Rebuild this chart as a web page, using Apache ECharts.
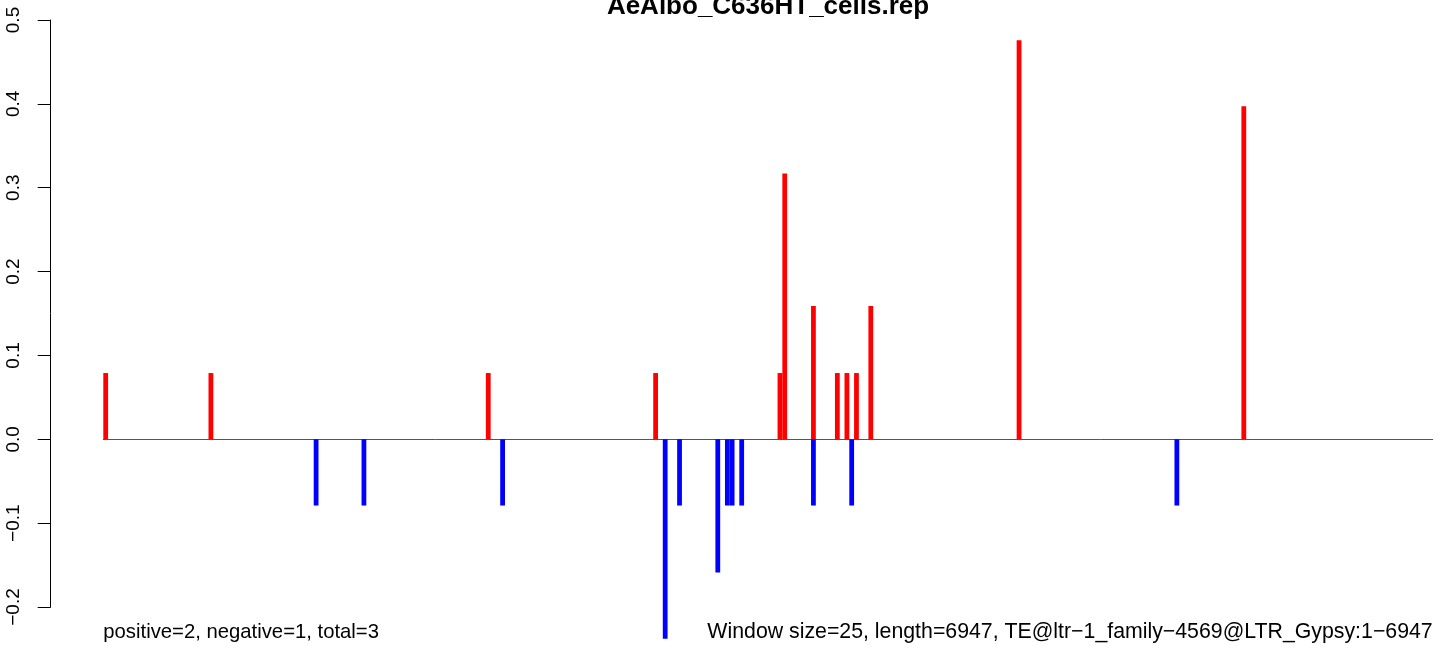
<!DOCTYPE html>
<html><head><meta charset="utf-8">
<script src="https://cdn.jsdelivr.net/npm/echarts@6/dist/echarts.min.js"></script>
<style>html,body{margin:0;padding:0;background:#fff}#c{width:1444px;height:650px}</style>
</head><body><div id="c"></div>
<script>
const titleText = 'AeAlbo_C636HT_cells.rep';
const noteLeft = 'positive=2, negative=1, total=3';
const noteRight = 'Window size=25, length=6947, TE@ltr\u22121_family\u22124569@LTR_Gypsy:1\u22126947';
const binCount = 278;
const positiveBins = [0, 22, 80, 115, 141, 142, 148, 153, 155, 157, 160, 191, 238];
const positiveValues = [0.079, 0.079, 0.079, 0.079, 0.079, 0.317, 0.159, 0.079, 0.079, 0.079, 0.159, 0.476, 0.397];
const negativeBins = [44, 54, 83, 117, 120, 128, 130, 131, 133, 148, 156, 224];
const negativeValues = [-0.079, -0.079, -0.079, -0.238, -0.079, -0.159, -0.079, -0.079, -0.079, -0.079, -0.079, -0.079];
const yTicks = [-0.2, -0.1, 0.0, 0.1, 0.2, 0.3, 0.4, 0.5];

const categories = [];
for (let i = 0; i < binCount; i++) categories.push(String(i + 1));
const posData = new Array(binCount).fill('-');
const negData = new Array(binCount).fill('-');
positiveBins.forEach((b, k) => { posData[b] = positiveValues[k]; });
negativeBins.forEach((b, k) => { negData[b] = negativeValues[k]; });

const FONT = '"Liberation Sans", Arial, Helvetica, sans-serif';
const chart = echarts.init(document.getElementById('c'), null, { renderer: 'canvas' });
chart.setOption({
  animation: false,
  backgroundColor: '#ffffff',
  grid: { left: 103.3, right: 11.3, top: 20, bottom: 43, outerBoundsMode: 'none' },
  xAxis: {
    type: 'category',
    data: categories,
    boundaryGap: true,
    axisLine: { show: true, onZero: true, lineStyle: { color: '#555555', width: 1 } },
    axisTick: { show: false },
    axisLabel: { show: false },
    splitLine: { show: false }
  },
  yAxis: {
    type: 'value',
    min: yTicks[0],
    max: yTicks[yTicks.length - 1],
    interval: 0.1,
    offset: 52.6,
    axisLine: { show: true, lineStyle: { color: '#000000', width: 1 } },
    axisTick: { show: true, length: 13, lineStyle: { color: '#000000', width: 1 } },
    axisLabel: {
      show: true,
      rotate: 90,
      margin: 27,
      color: '#000000',
      fontFamily: FONT,
      fontSize: 19,
      formatter: function (v) { return v.toFixed(1).replace('-', '\u2212'); }
    },
    splitLine: { show: false }
  },
  series: [
    {
      type: 'bar', name: 'positive', data: posData, clip: false,
      barCategoryGap: '0%', barGap: '-100%',
      itemStyle: { color: '#ff0000' }
    },
    {
      type: 'bar', name: 'negative', data: negData, clip: false,
      barCategoryGap: '0%', barGap: '-100%',
      itemStyle: { color: '#0000ff' }
    }
  ],
  graphic: [
    { type: 'text', x: 768, y: 6.5, style: { text: titleText, font: 'bold 26px ' + FONT, fill: '#000', textAlign: 'center', textVerticalAlign: 'middle' } },
    { type: 'text', x: 103.3, y: 632, style: { text: noteLeft, font: '20.3px ' + FONT, fill: '#000', textAlign: 'left', textVerticalAlign: 'middle' } },
    { type: 'text', x: 1432.7, y: 632, style: { text: noteRight, font: '21.3px ' + FONT, fill: '#000', textAlign: 'right', textVerticalAlign: 'middle' } }
  ]
});
</script>
</body></html>
